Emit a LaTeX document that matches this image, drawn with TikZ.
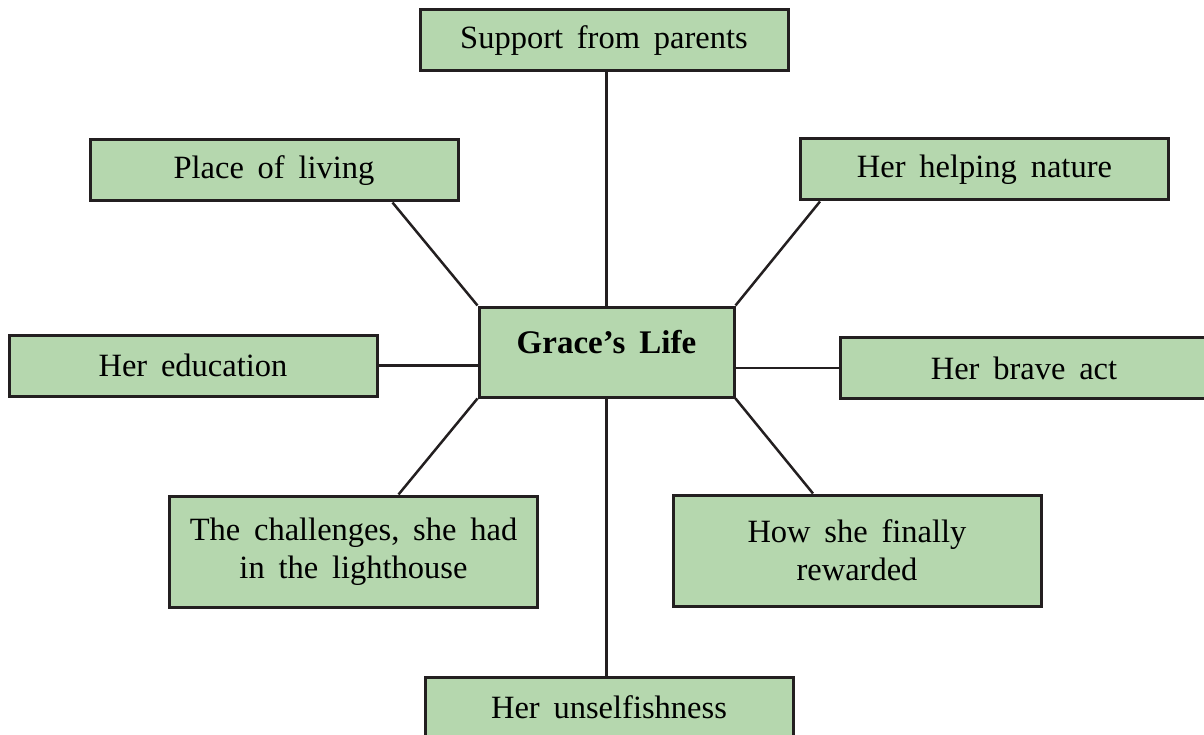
\documentclass[tikz,border=0pt]{standalone}
\usepackage{fontspec}
\setmainfont{Liberation Serif}[WordSpace=1.7]
\definecolor{boxgreen}{HTML}{B5D7AE}
\definecolor{boxline}{HTML}{231F20}

\begin{document}
\begin{tikzpicture}[x=1pt,y=-1pt,
   topic/.style={draw=boxline,line width=3pt,fill=boxgreen,minimum width=368pt,minimum height=61pt,inner sep=0pt,align=center,font=\fontsize{32.5}{38}\selectfont},
   spoke/.style={draw=boxline,line width=2.5pt}]
   \useasboundingbox (0,0) rectangle (1204,735);
   \node[topic,minimum width=255pt,minimum height=90pt,text depth=20pt,font=\fontsize{33}{38}\selectfont\bfseries] (grace) at (606.5,352) {Grace's Life};
   \node[topic] (parents) at (604,40.5) {Support from parents};
   \node[topic] (living) at (274,170.5) {Place of living};
   \node[topic] (helping) at (984.5,169.5) {Her helping nature};
   \node[topic] (education) at (193,365.5) {Her education};
   \node[topic] (brave) at (1024,368) {Her brave act};
   \node[topic,minimum height=111pt] (challenges) at (353.5,551.5) {The challenges, she had\\in the lighthouse};
   \node[topic,minimum height=111pt] (rewarded) at (857,550.5) {How she finally\\rewarded};
   \node[topic] (unselfish) at (609,707.5) {Her unselfishness};
   \draw[spoke] (grace.north) -- (grace.north |- parents.south);
   \draw[spoke] (grace.south) -- (grace.south |- unselfish.north);
   \draw[spoke] ([xshift=-67pt]living.south east) -- (grace.north west);
   \draw[spoke] ([xshift=21pt]helping.south west) -- (grace.north east);
   \draw[spoke] (education.east) -- (education.east -| grace.west);
   \draw[spoke] (brave.west) -- (brave.west -| grace.east);
   \draw[spoke] ([xshift=45pt]challenges.north) -- (grace.south west);
   \draw[spoke] ([xshift=-44pt]rewarded.north) -- (grace.south east);
\end{tikzpicture}
\end{document}
